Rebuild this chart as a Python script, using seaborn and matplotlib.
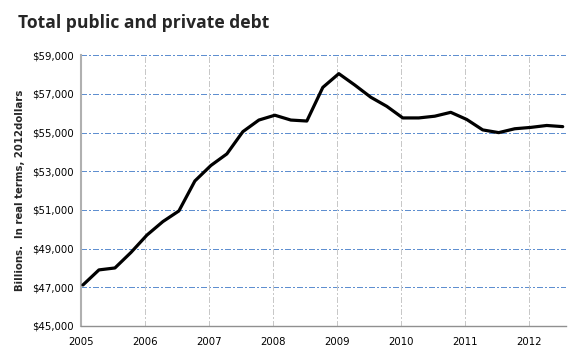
import matplotlib
matplotlib.use("Agg")
import matplotlib.pyplot as plt
import pandas as pd
import seaborn as sns
from matplotlib.ticker import FuncFormatter

# quarterly series, 2005 Q1 .. 2012 Q3 (billions, 2012 dollars)
years = [2005] * 4 + [2006] * 4 + [2007] * 4 + [2008] * 4 + [2009] * 4 + \
        [2010] * 4 + [2011] * 4 + [2012] * 3
quarters = [1, 2, 3, 4] * 7 + [1, 2, 3]
debt = [47120, 47900, 48000, 48800,
        49700, 50400, 50950, 52500,
        53300, 53900, 55050, 55650,
        55900, 55650, 55600, 57340,
        58050, 57460, 56830, 56360,
        55760, 55760, 55850, 56050,
        55680, 55140, 55000, 55200,
        55270, 55370, 55310]
year_ticks = [2005, 2006, 2007, 2008, 2009, 2010, 2011, 2012]
y_ticks = [45000, 47000, 49000, 51000, 53000, 55000, 57000, 59000]

df = pd.DataFrame({"year": years, "quarter": quarters, "debt": debt})
df["t"] = df["year"] + (df["quarter"] - 1) / 4 + 0.03

sns.set_style("white")
plt.rcParams["font.family"] = ["DejaVu Sans"]

fig = plt.figure(figsize=(5.8, 3.59), dpi=100)
ax = fig.add_axes([0.1397, 0.092, 0.836, 0.754])

ax.set_xlim(2005, 2012.58)
ax.set_ylim(45000, 59000)
ax.set_xticks(year_ticks)
ax.set_yticks(y_ticks)

# dash-dot grid: blue horizontals, light grey verticals
for y in y_ticks[1:]:
    ax.axhline(y, color="#5f8fd0", lw=1.0, ls=(0, (4, 2, 1, 2)), zorder=1,
               antialiased=False)
for x in year_ticks[1:]:
    ax.axvline(x, color="#c8c8c8", lw=1.0, ls=(0, (4, 2, 1, 2)), zorder=1,
               antialiased=False)

sns.lineplot(data=df, x="t", y="debt", ax=ax, color="black", lw=2.3, zorder=3)

ax.yaxis.set_major_formatter(FuncFormatter(lambda v, p: f"${v:,.0f}"))
ax.tick_params(axis="both", labelsize=7.3, length=3, width=0.8, colors="#999999",
               labelcolor="black", pad=2)
ax.tick_params(axis="x", pad=5)

for side in ["top", "right"]:
    ax.spines[side].set_visible(False)
ax.spines["left"].set_color("#b0b0b0")
ax.spines["left"].set_linewidth(1.5)
ax.spines["bottom"].set_color("#909090")
ax.spines["bottom"].set_linewidth(1.0)

ax.set_xlabel("")
ax.set_ylabel("Billions.  In real terms, 2012dollars", fontsize=7.3, fontweight="bold",
              labelpad=5)

fig.text(0.031, 0.962, "Total public and private debt", fontsize=12.6,
         fontweight="bold", va="top", ha="left", family="Open Sans")

fig.savefig("out.png", dpi=100)
